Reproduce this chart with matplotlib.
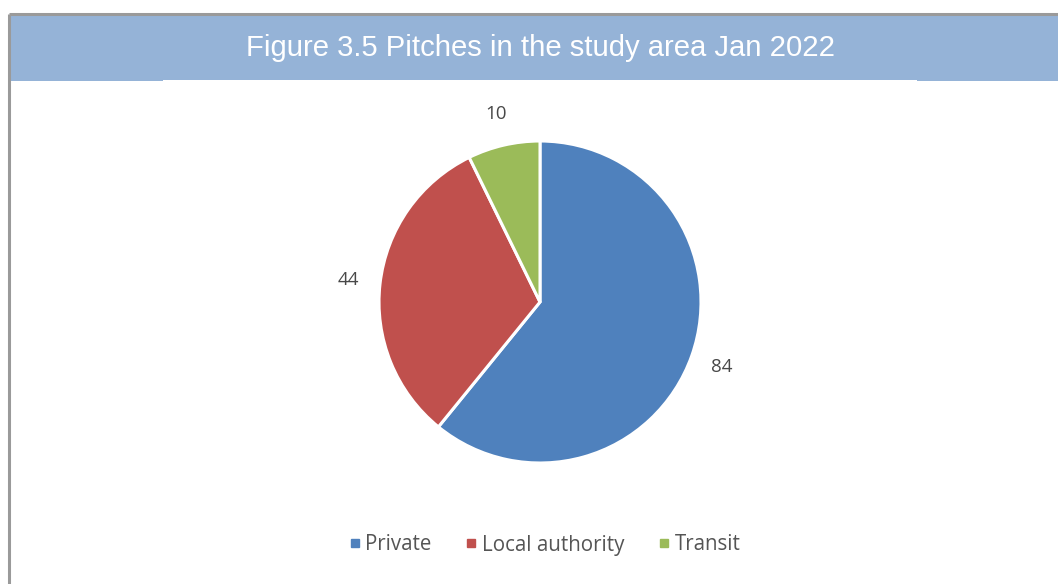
import matplotlib
matplotlib.use("Agg")
import matplotlib.pyplot as plt
from matplotlib.patches import Rectangle
from matplotlib.lines import Line2D

title = "Figure 3.5 Pitches in the study area Jan 2022"
categories = ["Private", "Local authority", "Transit"]
pitches = [84, 44, 10]
colors = ["#4F81BD", "#C0504D", "#9BBB59"]

W, H = 1058, 584
fig = plt.figure(figsize=(W / 100, H / 100), dpi=100)
fig.patch.set_facecolor("white")

# Full-figure overlay in pixel coordinates for the frame and header band
bg = fig.add_axes([0, 0, 1, 1])
bg.set_xlim(0, W)
bg.set_ylim(H, 0)
bg.axis("off")
bg.add_patch(Rectangle((10, 15), W - 10, 66, facecolor="#95B3D7", edgecolor="none"))
bg.add_patch(Rectangle((163, 80), 754, 2, facecolor="white", edgecolor="none"))
bg.plot([9, 9], [14, H], color="#9A9A9A", lw=2.2, solid_capstyle="butt")
bg.plot([9, W], [14, 14], color="#9A9A9A", lw=2.2, solid_capstyle="butt")
bg.text(540, 48, title, color="white", fontsize=21.1, family="Liberation Sans",
        ha="center", va="center")

# Pie
cx, cy, r = 540, 302, 161
ax = fig.add_axes([(cx - r) / W, (H - cy - r) / H, 2 * r / W, 2 * r / H])
wedges, texts = ax.pie(pitches, colors=colors, startangle=90, counterclock=False,
                       labels=[str(v) for v in pitches], labeldistance=1.2,
                       wedgeprops=dict(edgecolor="white", linewidth=2.2),
                       textprops=dict(color="#484848", fontsize=13.5,
                                      family="Open Sans", stretch="normal"))
for t in texts:
    t.set_ha("center")
    t.set_va("center")
ax.set_xlim(-1, 1)
ax.set_ylim(-1, 1)
ax.set_aspect("equal")

handles = [Line2D([], [], marker="s", linestyle="none", markersize=6,
                  markerfacecolor=c, markeredgecolor=c) for c in colors]
fig.legend(handles, categories, loc="center", bbox_to_anchor=(545 / W, 1 - 545 / H),
           ncol=3, frameon=False, handlelength=0.5, handletextpad=0.25,
           columnspacing=1.7,
           prop=dict(family="Open Sans", size=14.8, stretch="normal"),
           labelcolor="#555555")

fig.savefig("out.png", dpi=100)
